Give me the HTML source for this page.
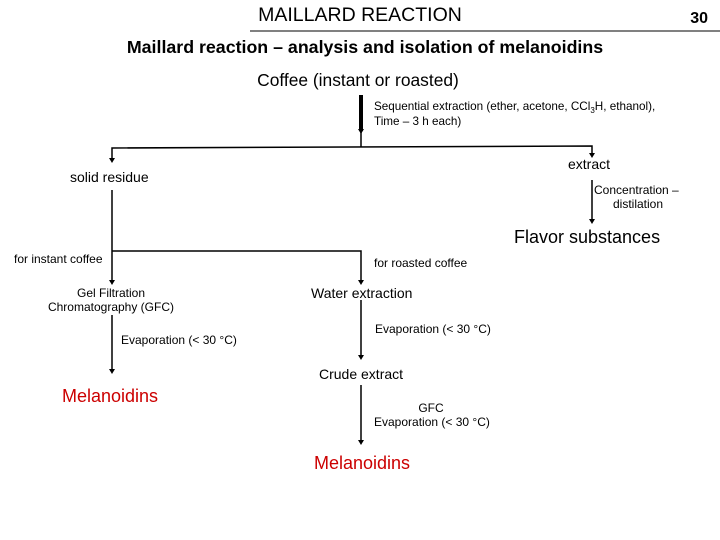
<!DOCTYPE html>
<html><head><meta charset="utf-8"><style>
html,body{margin:0;padding:0;background:#fff;}
svg{display:block;font-family:"Liberation Sans",Arial,sans-serif;}
</style></head><body>
<svg width="720" height="540" viewBox="0 0 720 540">
<rect width="720" height="540" fill="#fff"/>
<text x="360" y="21" font-size="19.5" text-anchor="middle">MAILLARD REACTION</text>
<text x="708" y="23" font-size="16" font-weight="bold" text-anchor="end">30</text>
<line x1="250" y1="31" x2="720" y2="31" stroke="#000" stroke-width="1"/>
<text x="365" y="53" font-size="17.8" font-weight="bold" text-anchor="middle">Maillard reaction – analysis and isolation of melanoidins</text>
<text x="358" y="86" font-size="17.4" text-anchor="middle">Coffee (instant or roasted)</text>
<line x1="361" y1="95" x2="361" y2="131" stroke="#000" stroke-width="4"/>
<text x="374" y="110" font-size="11.7">Sequential extraction (ether, acetone, CCl<tspan font-size="8" dy="3">3</tspan><tspan dy="-3">H, ethanol),</tspan></text>
<text x="374" y="125" font-size="11.7">Time – 3 h each)</text>
<g stroke="#000" stroke-width="1.5" fill="none">
<line x1="361" y1="131" x2="361" y2="147"/>
<polyline points="112,160 112,148 592,146 592,155"/>
<line x1="592" y1="180" x2="592" y2="219"/>
<line x1="112" y1="190" x2="112" y2="251"/>
<polyline points="112,251 361,251 361,280"/>
<line x1="112" y1="251" x2="112" y2="280"/>
<line x1="112" y1="315" x2="112" y2="369"/>
<line x1="361" y1="300" x2="361" y2="355"/>
<line x1="361" y1="385" x2="361" y2="440"/>
</g>
<g fill="#000">
<path d="M358,129 L364,129 L361,134z"/>
<path d="M109,158 L115,158 L112,163z"/>
<path d="M589,153 L595,153 L592,158z"/>
<path d="M589,219 L595,219 L592,224z"/>
<path d="M109,280 L115,280 L112,285z"/>
<path d="M358,280 L364,280 L361,285z"/>
<path d="M109,369 L115,369 L112,374z"/>
<path d="M358,355 L364,355 L361,360z"/>
<path d="M358,440 L364,440 L361,445z"/>
</g>
<text x="568" y="169" font-size="14">extract</text>
<text x="70" y="182" font-size="14">solid residue</text>
<text x="594" y="194" font-size="12">Concentration –</text>
<text x="638" y="208" font-size="12" text-anchor="middle">distilation</text>
<text x="514" y="243" font-size="18">Flavor substances</text>
<text x="14" y="263" font-size="12">for instant coffee</text>
<text x="374" y="267" font-size="12">for roasted coffee</text>
<text x="111" y="297" font-size="12" text-anchor="middle">Gel Filtration</text>
<text x="111" y="311" font-size="12" text-anchor="middle">Chromatography (GFC)</text>
<text x="311" y="298" font-size="14">Water extraction</text>
<text x="121" y="344" font-size="12">Evaporation (&lt; 30 °C)</text>
<text x="375" y="333" font-size="12">Evaporation (&lt; 30 °C)</text>
<text x="319" y="379" font-size="14">Crude extract</text>
<text x="62" y="402" font-size="18" fill="#cc0000">Melanoidins</text>
<text x="431" y="412" font-size="12" text-anchor="middle">GFC</text>
<text x="374" y="426" font-size="12">Evaporation (&lt; 30 °C)</text>
<text x="314" y="469" font-size="18" fill="#cc0000">Melanoidins</text>
</svg>
</body></html>
